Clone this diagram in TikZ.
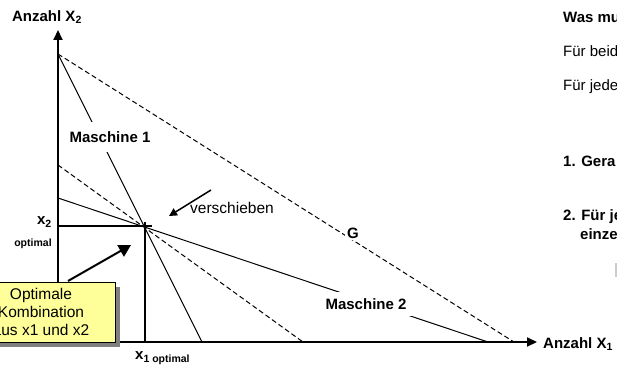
\documentclass[tikz,border=0pt]{standalone}
\usepackage{fontspec}
\setmainfont{Liberation Sans}
\usetikzlibrary{arrows.meta,shadows}
\definecolor{boxyellow}{HTML}{FFFF99}
\begin{document}
\begin{tikzpicture}[x=1pt,y=-1pt,
  big/.style={font=\fontsize{15}{17}\selectfont\bfseries, inner sep=0pt},
  reg/.style={font=\fontsize{15.5}{18}\selectfont, inner sep=0pt},
  small/.style={font=\fontsize{10.5}{12}\selectfont\bfseries, inner sep=0pt},
  axisline/.style={line width=2pt, -{Triangle[length=10pt,width=9pt]}},
  thinline/.style={line width=1pt},
  dashline/.style={line width=1pt, dash pattern=on 5pt off 3pt},
  cut/.style={fill=white, inner xsep=2pt},
]
\useasboundingbox (0,0) rectangle (617,366);
\clip (0,0) rectangle (617,366);

% points
\coordinate (O) at (58,342);
\coordinate (ytip) at (58,30);
\coordinate (xtip) at (537,342);
\coordinate (P) at (145,226);
\coordinate (A) at (58,54);
\coordinate (B) at (202,342);
\coordinate (C) at (58,198);
\coordinate (D) at (488,342);
\coordinate (E) at (58,165);
\coordinate (F) at (303,342);
\coordinate (Gend) at (514,342);
\coordinate (hx) at (152,226);
\coordinate (hy) at (58,226);
\coordinate (vtop) at (145,222);
\coordinate (vbot) at (145,342);

% lines
\draw[dashline] (A) -- (Gend);
\draw[dashline] (E) -- (F);
\draw[thinline] (A) -- (B);
\draw[thinline] (C) -- (D);
\draw[line width=1.2pt] (hy) -- (hx);
\draw[line width=1.2pt] (vtop) -- (vbot);

% line labels
\node[big, cut, inner ysep=9pt] (m1) at (110,137) {Maschine 1};
\node[big, cut, inner ysep=6pt, inner xsep=6pt] (m2) at (366,304) {Maschine 2};
\node[big, cut, inner sep=2pt] (g) at (353,233) {G};

% axes
\draw[axisline] (O) -- (ytip);
\draw[axisline] (O) -- (xtip);
\node[big] (ay) at (47,17) {Anzahl X\textsubscript{2}};
\node[big, anchor=west] (ax) at (543,344) {Anzahl X\textsubscript{1}};

% optimum labels
\node[big, anchor=east] (x2) at (52,222) {x\textsubscript{2}};
\node[small] (x2o) at (33,244) {optimal};
\node[anchor=base west, inner sep=0pt] (x1) at (135,359)
  {\fontsize{15}{17}\selectfont\bfseries x\raisebox{-3pt}{\fontsize{10.5}{12}\selectfont 1 optimal}};

% verschieben
\coordinate (vs) at (211,190);
\coordinate (ve) at (169,216);
\draw[line width=1.5pt, -{Triangle[length=8pt,width=8pt]}] (vs) -- (ve);
\node[reg, anchor=west] (vl) at (190,208) {verschieben};

% box
\node[draw, line width=1pt, fill=boxyellow, minimum width=148pt, minimum height=60pt,
  align=center, reg,
  drop shadow={shadow xshift=5pt, shadow yshift=-5pt, fill=black!50, opacity=1}]
  (box) at (41,312) {Optimale\\Kombination\\aus x1 und x2};
\coordinate (bs) at (68,281);
\coordinate (be) at (131,245);
\draw[line width=2pt, -{Triangle[length=12pt,width=13pt]}] (bs) -- (be);

% right-hand text
\node[big, anchor=west] (t1) at (563,17) {Was mu};
\node[reg, font=\fontsize{15}{17}\selectfont, anchor=west] (t2) at (563,51) {Für beid};
\node[reg, font=\fontsize{15}{17}\selectfont, anchor=west] (t3) at (563,87) {Für jede};
\node[big, anchor=west] (t4) at (563,161) {1. Gera};
\node[big, anchor=west] (t5) at (563,217) {2. Für je};
\node[big, anchor=west] (t6) at (580,234) {einze};
\draw[black!20, line width=1.5pt] (616,263) -- (616,277);
\end{tikzpicture}
\end{document}
